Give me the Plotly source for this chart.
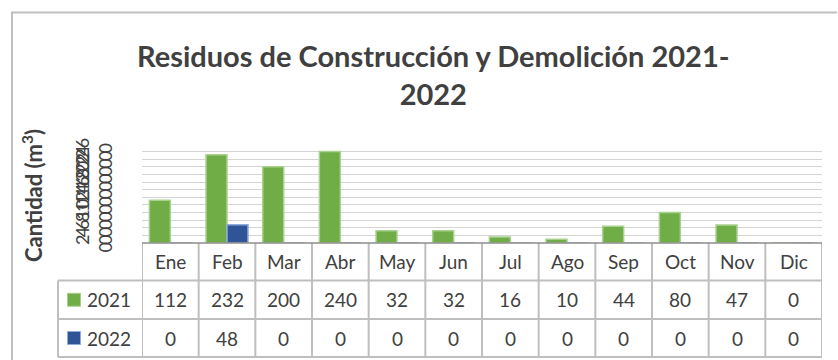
import plotly.graph_objects as go

# ---- data -------------------------------------------------------------
months = ["Ene", "Feb", "Mar", "Abr", "May", "Jun",
          "Jul", "Ago", "Sep", "Oct", "Nov", "Dic"]
series_names = ["2021", "2022"]
values_2021 = [112, 232, 200, 240, 32, 32, 16, 10, 44, 80, 47, 0]
values_2022 = [0, 48, 0, 0, 0, 0, 0, 0, 0, 0, 0, 0]
y_ticks = list(range(0, 261, 20))

title_text = "Residuos de Construcción y Demolición 2021-<br>2022"
y_title = "Cantidad (m<sup>3</sup>)"

# ---- styling ----------------------------------------------------------
W, H = 838, 360
ML, MR, MT, MB = 142, 16, 144, 117
PW, PH = W - ML - MR, H - MT - MB
FONT = "Lato"
TXT = "#404040"
GREEN, GREEN_EDGE = "#70AD47", "#A9D18E"
BLUE, BLUE_EDGE = "#2F5597", "#8FAADC"
TABLE_LINE = "#BFBFBF"


def px_x(p):
    """pixel column -> paper x"""
    return (p - ML) / PW


def px_y(p):
    """pixel row -> paper y"""
    return (H - MB - p) / PH


series = [(series_names[0], values_2021, GREEN, GREEN_EDGE),
          (series_names[1], values_2022, BLUE, BLUE_EDGE)]

fig = go.Figure()
for name, vals, fill, edge in series:
    fig.add_trace(go.Bar(
        x=list(range(len(months))), y=vals, name=name,
        marker=dict(color=fill, line=dict(color=edge, width=1.5)),
        showlegend=False,
    ))

# tick labels wrap their last digit onto a second line
tick_text = [str(v) if v < 10 else f"{str(v)[:-1]}<br>{str(v)[-1]}" for v in y_ticks]

shapes = []
annotations = []

# outer chart frame (top and left edges)
shapes.append(dict(type="line", xref="paper", yref="paper",
                   x0=px_x(11), x1=px_x(837), y0=px_y(12.5), y1=px_y(12.5),
                   line=dict(color="#C0C0C0", width=2)))
shapes.append(dict(type="line", xref="paper", yref="paper",
                   x0=px_x(12), x1=px_x(12), y0=px_y(12), y1=px_y(361),
                   line=dict(color="#C0C0C0", width=2)))

# data table grid
row_tops = [243, 280.5, 319, 357]
for yy in row_tops[1:]:
    shapes.append(dict(type="line", xref="paper", yref="paper",
                       x0=px_x(58), x1=1, y0=px_y(yy), y1=px_y(yy),
                       line=dict(color=TABLE_LINE, width=2)))
for i in range(len(months) + 1):
    shapes.append(dict(type="line", xref="x", yref="paper",
                       x0=i - 0.5, x1=i - 0.5, y0=px_y(243), y1=px_y(357),
                       line=dict(color=TABLE_LINE, width=2)))
shapes.append(dict(type="line", xref="paper", yref="paper",
                   x0=px_x(58), x1=px_x(58), y0=px_y(280.5), y1=px_y(357),
                   line=dict(color=TABLE_LINE, width=2)))
# axis line along the top of the table
shapes.append(dict(type="line", xref="paper", yref="paper",
                   x0=0, x1=1, y0=0, y1=0,
                   line=dict(color="#8C8C8C", width=1.5)))

cell_font = dict(family=FONT, size=19, color=TXT)
header_y = px_y((243 + 280.5) / 2)
row_y = [px_y((280.5 + 319) / 2), px_y((319 + 357) / 2)]

for i, m in enumerate(months):
    annotations.append(dict(x=i, y=header_y, xref="x", yref="paper", text=m,
                            xanchor="center", yanchor="middle",
                            showarrow=False, font=cell_font))
for r, (name, vals, fill, edge) in enumerate(series):
    for i, v in enumerate(vals):
        annotations.append(dict(x=i, y=row_y[r], xref="x", yref="paper", text=str(v),
                                xanchor="center", yanchor="middle",
                                showarrow=False, font=cell_font))
    # legend key + series name in the row header
    shapes.append(dict(type="rect", xref="paper", yref="paper",
                       x0=px_x(67.5), x1=px_x(80.5),
                       y0=row_y[r] - 6.5 / PH, y1=row_y[r] + 6.5 / PH,
                       fillcolor=fill, line=dict(color=edge, width=1)))
    annotations.append(dict(x=px_x(85), y=row_y[r], xref="paper", yref="paper",
                            text=name, xanchor="left", yanchor="middle",
                            showarrow=False, font=cell_font))

# chart title
annotations.append(dict(x=px_x(433), y=px_y(74), xref="paper", yref="paper",
                        text=title_text, xanchor="center", yanchor="middle",
                        align="center", showarrow=False,
                        font=dict(family=FONT, size=29, color=TXT, weight="bold")))

# y axis title
annotations.append(dict(x=px_x(32), y=px_y(196), xref="paper", yref="paper",
                        text=y_title, textangle=-90, showarrow=False,
                        xanchor="center", yanchor="middle",
                        font=dict(family=FONT, size=22, color=TXT, weight="bold")))

fig.update_layout(
    width=W, height=H,
    margin=dict(l=ML, r=MR, t=MT, b=MB, pad=0),
    paper_bgcolor="white", plot_bgcolor="white",
    barmode="group", bargap=0.26, bargroupgap=0,
    xaxis=dict(range=[-0.5, len(months) - 0.5], showticklabels=False,
               showgrid=False, zeroline=False, showline=False, fixedrange=True),
    yaxis=dict(range=[0, 260], tickvals=y_ticks, ticktext=tick_text,
               tickangle=-90, ticklabelstandoff=25, ticklabelshift=7,
               tickfont=dict(family=FONT, size=18, color=TXT),
               showgrid=True, gridcolor="#D4D4D4", gridwidth=1,
               zeroline=False, showline=False, ticks=""),
    shapes=shapes, annotations=annotations,
)

fig.write_html("out.html")
